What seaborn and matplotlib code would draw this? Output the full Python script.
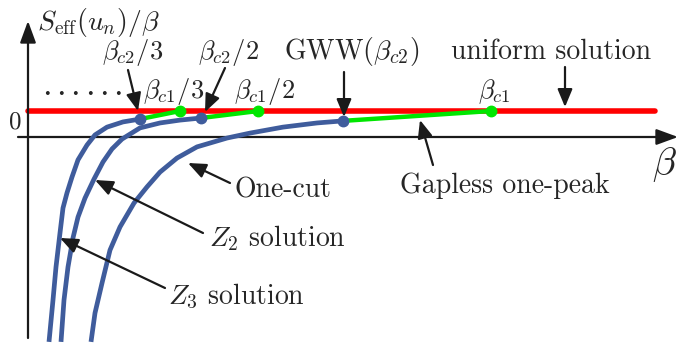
import matplotlib
matplotlib.use("Agg")
import matplotlib.pyplot as plt
import seaborn as sns

# schematic: beta in arbitrary units, S_eff/beta in units of the uniform level
uniform_beta = [0.0, 6.27]
uniform_s = [1.0, 1.0]

z3_beta = [0.21, 0.25, 0.28, 0.32, 0.35, 0.39, 0.44, 0.50, 0.59, 0.67, 0.79, 0.95, 1.12]
z3_s = [-7.88, -6.27, -5.00, -3.69, -2.73, -2.15, -1.54, -0.88, -0.31, 0.08, 0.38, 0.58, 0.69]

z2_beta = [0.33, 0.36, 0.40, 0.45, 0.50, 0.57, 0.66, 0.75, 0.84, 0.94, 1.12, 1.32, 1.52, 1.73]
z2_s = [-7.88, -6.27, -5.00, -3.88, -3.08, -2.35, -1.62, -0.96, -0.46, -0.08, 0.35, 0.54, 0.65, 0.73]

onecut_beta = [0.63, 0.67, 0.74, 0.82, 0.92, 1.06, 1.19, 1.32, 1.49, 1.69, 1.99, 2.22, 2.55, 2.89, 3.15]
onecut_s = [-7.88, -6.77, -5.62, -4.35, -3.46, -2.54, -1.92, -1.35, -0.81, -0.38, -0.04, 0.15, 0.38, 0.54, 0.62]

# gapless one-peak branches: (start on blue curve, end on uniform line)
gapless_beta = [[1.12, 1.52], [1.73, 2.30], [3.15, 4.63]]
gapless_s = [[0.69, 1.0], [0.73, 1.0], [0.62, 1.0]]

BLUE = "#3f5c9c"
RED = "#ff0000"
GREEN = "#00e600"

sns.set_theme(style="white")
plt.rcParams["font.family"] = ["cmr10", "DejaVu Serif"]
plt.rcParams["mathtext.fontset"] = "cm"
plt.rcParams["axes.unicode_minus"] = False


def d(px, py):
    # layout helper: picture pixel -> data coords
    return ((px - 28) / 100, (137 - py) / 26)


fig = plt.figure(figsize=(6.78, 3.46), dpi=100)
ax = fig.add_axes([0, 0, 1, 1])
ax.set_xlim(d(0, 0)[0], d(678, 0)[0])
ax.set_ylim(d(0, 346)[1], d(0, 0)[1])
ax.axis("off")

# axes with arrows
axstyle = dict(arrowstyle="-|>,head_length=0.6,head_width=0.22", mutation_scale=22,
               lw=1.6, color="k", shrinkA=0, shrinkB=0)
ax.annotate("", xy=d(678, 137), xytext=d(18, 137), arrowprops=axstyle)
ax.annotate("", xy=d(28, 21), xytext=d(28, 338), arrowprops=axstyle)

sns.lineplot(x=uniform_beta, y=uniform_s, color=RED, lw=4.0, ax=ax, zorder=2)
for bx, by in zip(gapless_beta, gapless_s):
    sns.lineplot(x=bx, y=by, color=GREEN, lw=3.2, ax=ax, zorder=3)
for bx, by in [(z3_beta, z3_s), (z2_beta, z2_s), (onecut_beta, onecut_s)]:
    sns.lineplot(x=bx, y=by, color=BLUE, lw=3.4, sort=False, ax=ax, zorder=4)
    ax.lines[-1].set_solid_capstyle("butt")
    ax.lines[-1].set_solid_joinstyle("round")

ax.plot([b[1] for b in gapless_beta], [s[1] for s in gapless_s], "o",
        color=GREEN, ms=7.5, zorder=5)
ax.plot([b[0] for b in gapless_beta], [s[0] for s in gapless_s], "o",
        color=BLUE, ms=7.5, zorder=6)

# labels
fs = 20
ax.text(*d(37, 30), r"$S_{\mathrm{eff}}(u_n)/\beta$", fontsize=fs, va="baseline", ha="left")
ax.text(*d(664, 165), r"$\beta$", fontsize=28, ha="center", va="center")
ax.text(*d(15, 122), "0", fontsize=18, ha="center", va="center")
for k in range(6):
    ax.text(*d(47 + 14.2 * k, 95), ".", fontsize=25, ha="center", va="baseline")

ax.text(*d(133, 52), r"$\beta_{c2}/3$", fontsize=19, ha="center", va="center")
ax.text(*d(228, 52), r"$\beta_{c2}/2$", fontsize=19, ha="center", va="center")
ax.text(*d(174, 92), r"$\beta_{c1}/3$", fontsize=19, ha="center", va="center")
ax.text(*d(264, 92), r"$\beta_{c1}/2$", fontsize=19, ha="center", va="center")
ax.text(*d(494, 92), r"$\beta_{c1}$", fontsize=19, ha="center", va="center")
ax.text(*d(352, 52), r"GWW$(\beta_{c2})$", fontsize=fs, ha="center", va="center")
ax.text(*d(551, 52), "uniform solution", fontsize=fs, ha="center", va="center")
ax.text(*d(283, 190), "One-cut", fontsize=fs, ha="center", va="center")
ax.text(*d(505, 186), "Gapless one-peak", fontsize=fs, ha="center", va="center")
ax.text(*d(277, 238), r"$Z_2$ solution", fontsize=fs, ha="center", va="center")
ax.text(*d(236, 296), r"$Z_3$ solution", fontsize=fs, ha="center", va="center")

arrow = dict(arrowstyle="-|>,head_length=0.6,head_width=0.25", mutation_scale=18,
             lw=1.6, color="k", shrinkA=0, shrinkB=0)
for tail, head in [((128, 70), (138, 111)), ((225, 68), (205, 112)),
                   ((344, 72), (344, 117)), ((565, 67), (565, 107)),
                   ((433, 165), (420, 120)), ((230, 183), (188, 163)),
                   ((203, 233), (95, 180)), ((165, 288), (60, 238))]:
    ax.annotate("", xy=d(*head), xytext=d(*tail), arrowprops=arrow, zorder=7)

fig.savefig("out.png", dpi=100)
